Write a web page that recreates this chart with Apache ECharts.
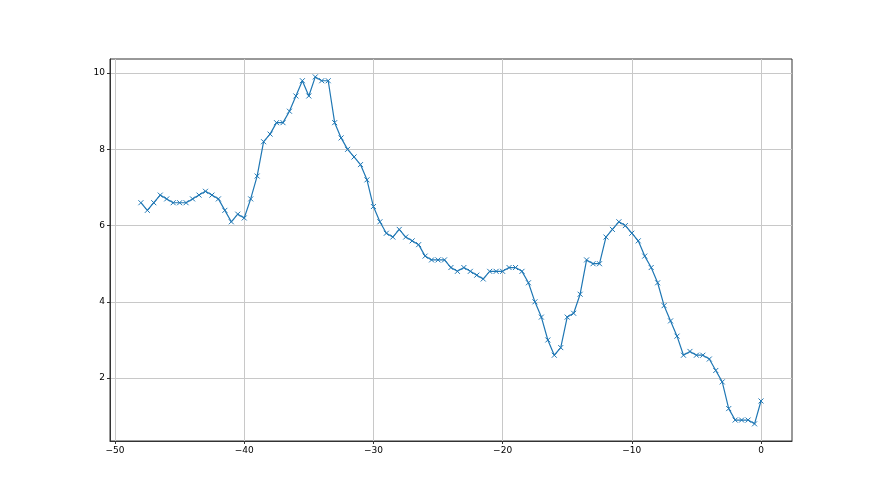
<!DOCTYPE html>
<html>
<head>
<meta charset="utf-8">
<script src="https://cdn.jsdelivr.net/npm/echarts@6/dist/echarts.min.js"></script>
<style>
  html, body { margin: 0; padding: 0; background: #fff; }
  #chart { width: 880px; height: 495px; }
</style>
</head>
<body>
<div id="chart"></div>
<script>
// x positions, one point every 0.5 from -48 to 0
const xValues = [
  -48, -47.5, -47, -46.5, -46, -45.5, -45, -44.5, -44, -43.5,
  -43, -42.5, -42, -41.5, -41, -40.5, -40, -39.5, -39, -38.5,
  -38, -37.5, -37, -36.5, -36, -35.5, -35, -34.5, -34, -33.5,
  -33, -32.5, -32, -31.5, -31, -30.5, -30, -29.5, -29, -28.5,
  -28, -27.5, -27, -26.5, -26, -25.5, -25, -24.5, -24, -23.5,
  -23, -22.5, -22, -21.5, -21, -20.5, -20, -19.5, -19, -18.5,
  -18, -17.5, -17, -16.5, -16, -15.5, -15, -14.5, -14, -13.5,
  -13, -12.5, -12, -11.5, -11, -10.5, -10, -9.5, -9, -8.5,
  -8, -7.5, -7, -6.5, -6, -5.5, -5, -4.5, -4, -3.5,
  -3, -2.5, -2, -1.5, -1, -0.5, 0
];
const yValues = [
  6.6, 6.4, 6.6, 6.8, 6.7, 6.6, 6.6, 6.6, 6.7, 6.8,
  6.9, 6.8, 6.7, 6.4, 6.1, 6.3, 6.2, 6.7, 7.3, 8.2,
  8.4, 8.7, 8.7, 9.0, 9.4, 9.8, 9.4, 9.9, 9.8, 9.8,
  8.7, 8.3, 8.0, 7.8, 7.6, 7.2, 6.5, 6.1, 5.8, 5.7,
  5.9, 5.7, 5.6, 5.5, 5.2, 5.1, 5.1, 5.1, 4.9, 4.8,
  4.9, 4.8, 4.7, 4.6, 4.8, 4.8, 4.8, 4.9, 4.9, 4.8,
  4.5, 4.0, 3.6, 3.0, 2.6, 2.8, 3.6, 3.7, 4.2, 5.1,
  5.0, 5.0, 5.7, 5.9, 6.1, 6.0, 5.8, 5.6, 5.2, 4.9,
  4.5, 3.9, 3.5, 3.1, 2.6, 2.7, 2.6, 2.6, 2.5, 2.2,
  1.9, 1.2, 0.9, 0.9, 0.9, 0.8, 1.4
];
const xTicks = [-50, -40, -30, -20, -10, 0];
const yTicks = [2, 4, 6, 8, 10];

const points = xValues.map((x, i) => [x, yValues[i]]);
const minus = (v) => String(v).replace("-", "\u2212");

const chart = echarts.init(document.getElementById("chart"), null, { renderer: "canvas" });

const axisText = { color: "#000", fontFamily: "DejaVu Sans", fontSize: 9 };
const gridLine = { show: true, lineStyle: { color: "#c8c8c8", width: 1 } };

chart.setOption({
  animation: false,
  grid: {
    left: 110, right: 88, top: 59, bottom: 54,
    show: true, borderColor: "#333", borderWidth: 1,
    backgroundColor: "transparent",
  },
  xAxis: {
    type: "value",
    min: -50.39,
    max: 2.4,
    axisLine: { show: true, onZero: false, lineStyle: { color: "#333", width: 1 } },
    axisTick: { show: true, length: 3, customValues: xTicks, lineStyle: { color: "#333" } },
    axisLabel: Object.assign({ customValues: xTicks, margin: 5, formatter: minus }, axisText),
    splitLine: gridLine,
  },
  yAxis: {
    type: "value",
    min: 0.35,
    max: 10.37,
    axisLine: { show: true, onZero: false, lineStyle: { color: "#333", width: 1 } },
    axisTick: { show: true, length: 3, customValues: yTicks, lineStyle: { color: "#333" } },
    axisLabel: Object.assign({ customValues: yTicks, margin: 5 }, axisText),
    splitLine: gridLine,
  },
  series: [
    {
      type: "line",
      data: points,
      symbol: "path://M0,0L10,10M10,0L0,10",
      symbolSize: 5,
      showAllSymbol: true,
      lineStyle: { color: "#1f77b4", width: 1.2 },
      itemStyle: { color: "#1f77b4", borderColor: "#1f77b4", borderWidth: 1 },
    },
  ],
});
</script>
</body>
</html>
